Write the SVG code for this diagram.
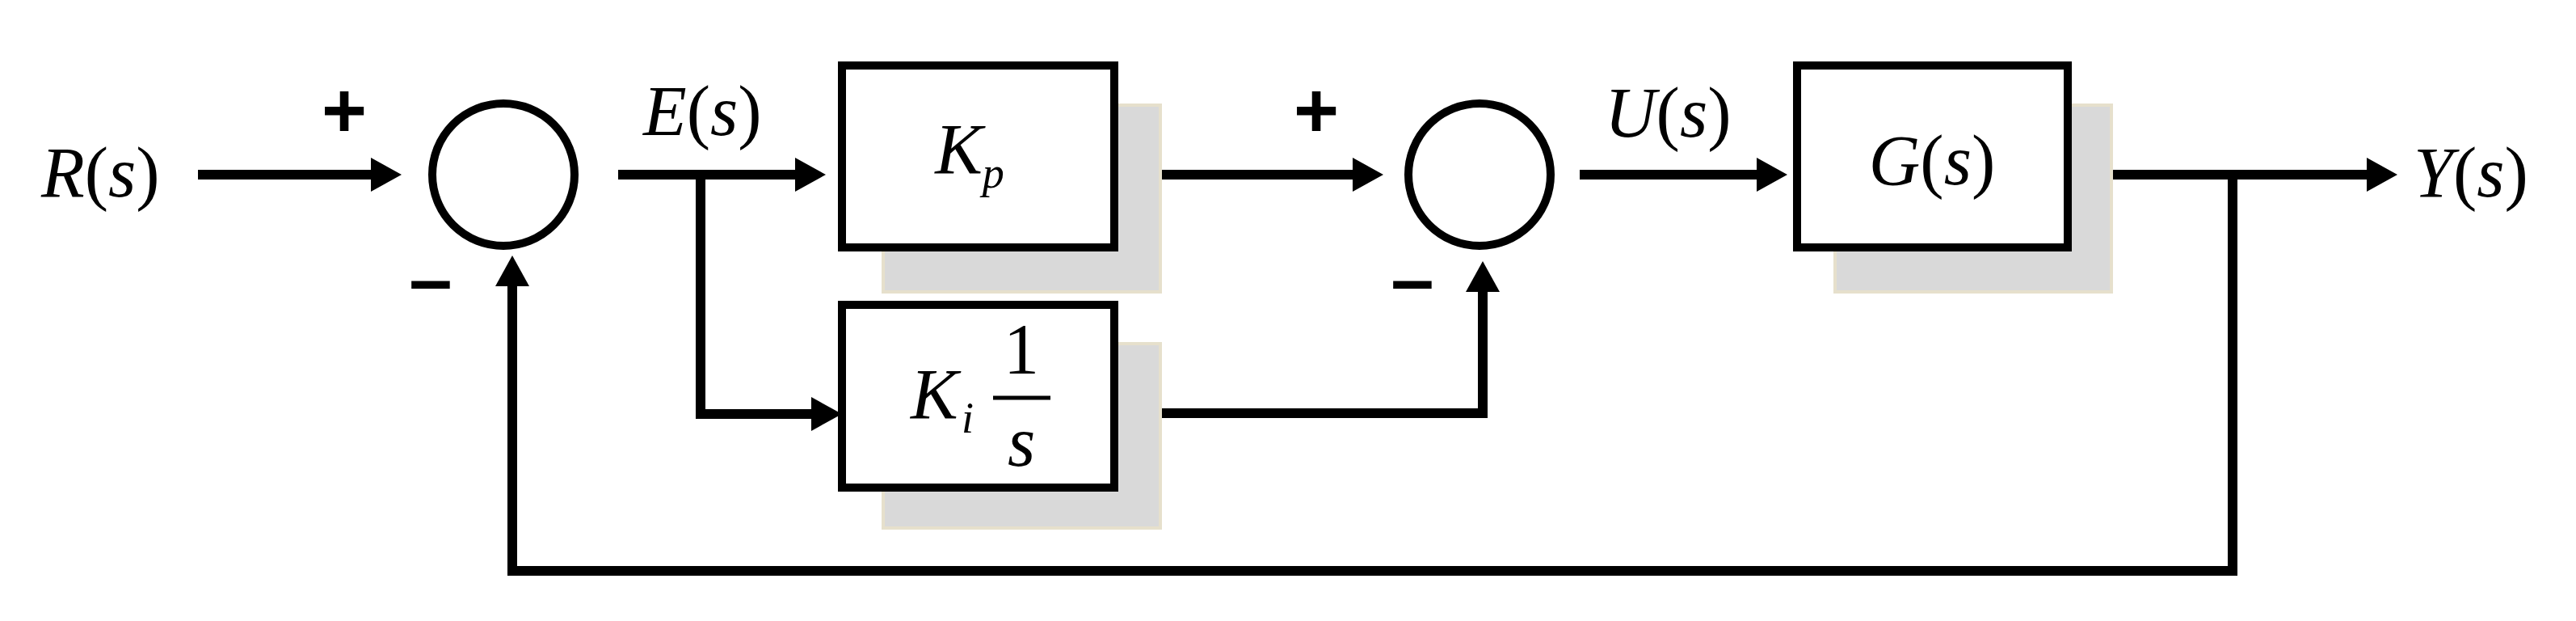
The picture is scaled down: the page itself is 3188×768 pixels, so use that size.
<svg xmlns="http://www.w3.org/2000/svg" width="3188" height="768" viewBox="0 0 3188 768">
<style>
.w{fill:none;stroke:#000;stroke-width:12;stroke-linejoin:miter}
.box{fill:#fff;stroke:#000;stroke-width:10}
.sh{fill:#d9d9d9;stroke:#e6e0cc;stroke-width:4}
.sum{fill:#fff;stroke:#000;stroke-width:10}
.m{font-size:88px;fill:#000}
.i{font-style:italic}
.sub{font-style:italic;font-size:54px}
.sg{font-weight:bold;font-size:96px;text-anchor:middle}
</style>
<defs>
<marker id="a" markerUnits="userSpaceOnUse" markerWidth="40" markerHeight="42" refX="18" refY="21" orient="auto">
<path d="M0,0 L38,21 L0,42 Z" fill="#000"/>
</marker>
</defs>
<rect width="3188" height="768" fill="#fff"/>
<g id="connectors">
<path class="w" d="M245,216 H477" marker-end="url(#a)"/>
<path class="w" d="M765,216 H1002" marker-end="url(#a)"/>
<path class="w" d="M867,216 V512 H1022" marker-end="url(#a)"/>
<path class="w" d="M1405,216 H1692" marker-end="url(#a)"/>
<path class="w" d="M1405,511 H1835 V343" marker-end="url(#a)"/>
<path class="w" d="M1955,216 H2192" marker-end="url(#a)"/>
<path class="w" d="M2585,216 H2947" marker-end="url(#a)"/>
<path class="w" d="M2763,216 V706 H634 V336" marker-end="url(#a)"/>
</g>
<g font-family="Liberation Sans, Arial, sans-serif">
<g id="sum1"><ellipse class="sum" cx="623" cy="216" rx="88" ry="88"/>
<text class="sg" x="426" y="170">+</text><text class="sg" x="533" y="378">–</text></g>
<g id="sum2"><ellipse class="sum" cx="1831" cy="216" rx="88" ry="88"/>
<text class="sg" x="1629" y="170">+</text><text class="sg" x="1748" y="378">–</text></g>
</g>
<g font-family="Liberation Serif, Times New Roman, serif">
<g id="kp"><rect class="sh" x="1093" y="130" width="343" height="231"/><rect class="box" x="1042" y="81" width="337" height="225"/>
<text class="m" x="1200" y="214" text-anchor="middle"><tspan class="i">K</tspan><tspan class="sub" dy="18">p</tspan></text></g>
<g id="ki"><rect class="sh" x="1093" y="425" width="343" height="228"/><rect class="box" x="1042" y="377" width="337" height="226"/>
<text class="m i" x="1127" y="517">K</text><text class="sub" x="1190" y="535">i</text>
<text class="m" x="1264" y="461" text-anchor="middle">1</text>
<line x1="1229" y1="492" x2="1300" y2="492" stroke="#000" stroke-width="5"/>
<text class="m i" x="1264" y="576" text-anchor="middle">s</text></g>
<g id="g"><rect class="sh" x="2271" y="130" width="342" height="231"/><rect class="box" x="2224" y="81" width="335" height="225"/>
<text class="m" x="2391" y="228" text-anchor="middle"><tspan class="i">G</tspan>(<tspan class="i">s</tspan>)</text></g>
<g id="labels">
<text class="m" x="51" y="243"><tspan class="i">R</tspan>(<tspan class="i">s</tspan>)</text>
<text class="m" x="796" y="167"><tspan class="i">E</tspan>(<tspan class="i">s</tspan>)</text>
<text class="m" x="1986" y="169"><tspan class="i">U</tspan>(<tspan class="i">s</tspan>)</text>
<text class="m" x="2987" y="243"><tspan class="i">Y</tspan>(<tspan class="i">s</tspan>)</text>
</g>
</g>
</svg>
